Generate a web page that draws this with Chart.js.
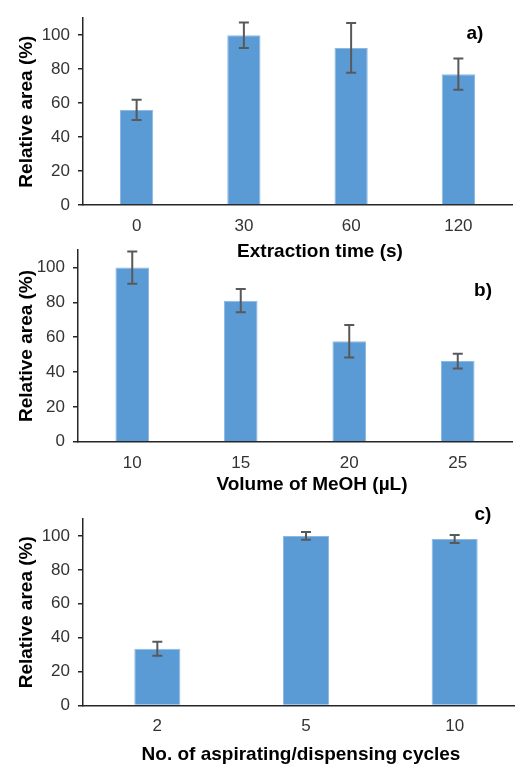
<!DOCTYPE html>
<html>
<head>
<meta charset="utf-8">
<script src="https://cdn.jsdelivr.net/npm/chart.js@4.4.1/dist/chart.umd.min.js"></script>
<style>
  html, body { margin: 0; padding: 0; background: #fff; }
  body { width: 515px; height: 764px; position: relative; overflow: hidden; }
  canvas { position: absolute; left: 0; }
</style>
</head>
<body>
<canvas id="chartA" width="515" height="262" style="top:0px"></canvas>
<canvas id="chartB" width="515" height="262" style="top:232px"></canvas>
<canvas id="chartC" width="535" height="264" style="top:500px"></canvas>
<script>
// panel a) extraction time
const timeLabels = ['0', '30', '60', '120'];
const timeValues = [56, 100, 92.5, 77];
const timeErrors = [6, 7.5, 14.6, 9.2];

// panel b) methanol volume
const volumeLabels = ['10', '15', '20', '25'];
const volumeValues = [100, 81, 57.7, 46.3];
const volumeErrors = [9.3, 6.7, 9.3, 4.2];

// panel c) aspirating/dispensing cycles
const cycleLabels = ['2', '5', '10'];
const cycleValues = [33.5, 100, 98.2];
const cycleErrors = [4.1, 2.3, 2.3];

const yTicks = [0, 20, 40, 60, 80, 100];

Chart.defaults.font.family = '"Liberation Sans", Arial, sans-serif';
Chart.defaults.color = '#333';

// draws the error bars on top of the bars
const errorBars = {
  id: 'errorBars',
  afterDatasetsDraw(chart, args, opts) {
    const ctx = chart.ctx;
    const yScale = chart.scales.y;
    const values = chart.data.datasets[0].data;
    const meta = chart.getDatasetMeta(0);
    ctx.save();
    ctx.strokeStyle = '#595959';
    ctx.lineWidth = 2;
    meta.data.forEach((bar, i) => {
      const top = yScale.getPixelForValue(values[i] + opts.errors[i]);
      const bottom = yScale.getPixelForValue(values[i] - opts.errors[i]);
      ctx.beginPath();
      ctx.moveTo(bar.x, top);
      ctx.lineTo(bar.x, bottom);
      ctx.moveTo(bar.x - 5, top);
      ctx.lineTo(bar.x + 5, top);
      ctx.moveTo(bar.x - 5, bottom);
      ctx.lineTo(bar.x + 5, bottom);
      ctx.stroke();
    });
    ctx.restore();
  }
};

// x axis title and the panel letter
const panelText = {
  id: 'panelText',
  afterDraw(chart, args, opts) {
    const ctx = chart.ctx;
    ctx.save();
    ctx.fillStyle = '#000';
    ctx.font = 'bold 19px "Liberation Sans", Arial, sans-serif';
    ctx.textAlign = 'center';
    ctx.textBaseline = 'middle';
    ctx.fillText(opts.xTitle, opts.xTitleAt[0], opts.xTitleAt[1]);
    ctx.fillText(opts.letter, opts.letterAt[0], opts.letterAt[1]);
    ctx.restore();
  }
};

function makePanel(id, labels, values, errors, text, box) {
  return new Chart(document.getElementById(id), {
    type: 'bar',
    data: {
      labels: labels,
      datasets: [{
        data: values,
        backgroundColor: '#5B9BD5',
        borderColor: '#8DB8E3',
        borderWidth: 1,
        categoryPercentage: 1,
        barPercentage: 0.31
      }]
    },
    options: {
      responsive: false,
      animation: false,
      layout: { padding: { top: box.top, right: box.right, left: 0, bottom: 0 } },
      plugins: {
        legend: { display: false },
        tooltip: { enabled: false },
        errorBars: { errors: errors },
        panelText: text
      },
      scales: {
        x: {
          grid: { display: false, drawTicks: false },
          border: { display: true, color: '#262626', width: 1.5 },
          ticks: { font: { size: 17 }, padding: 11, color: '#333' },
          afterFit: s => { s.height = box.xHeight; }
        },
        y: {
          min: 0,
          max: 110,
          ticks: { font: { size: 17 }, padding: 8, color: '#333' },
          afterBuildTicks: s => { s.ticks = yTicks.map(v => ({ value: v })); },
          grid: { display: true, drawOnChartArea: false, drawTicks: true, tickLength: 5, color: '#262626', lineWidth: 1.5 },
          border: { display: true, color: '#262626', width: 1.5 },
          title: {
            display: true,
            text: 'Relative area (%)',
            color: '#000',
            font: { size: 19, weight: 'bold' },
            padding: { top: 15, bottom: 0 }
          },
          afterFit: s => { s.width = box.yWidth; }
        }
      }
    },
    plugins: [errorBars, panelText]
  });
}

makePanel('chartA', timeLabels, timeValues, timeErrors,
  { xTitle: 'Extraction time (s)', xTitleAt: [320, 252], letter: 'a)', letterAt: [475, 34] },
  { top: 13, right: 3, xHeight: 57, yWidth: 83 });

makePanel('chartB', volumeLabels, volumeValues, volumeErrors,
  { xTitle: 'Volume of MeOH (µL)', xTitleAt: [312, 253], letter: 'b)', letterAt: [483, 59] },
  { top: 13, right: 3, xHeight: 52.3, yWidth: 78 });

makePanel('chartC', cycleLabels, cycleValues, cycleErrors,
  { xTitle: 'No. of aspirating/dispensing cycles', xTitleAt: [301, 255], letter: 'c)', letterAt: [483, 15] },
  { top: 19, right: 6, xHeight: 58.5, yWidth: 83 });
</script>
</body>
</html>
